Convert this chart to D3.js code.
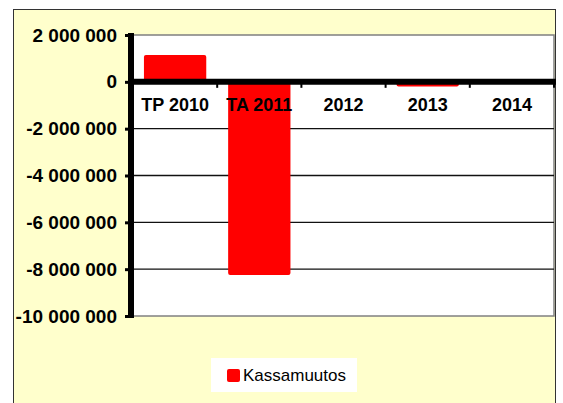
<!DOCTYPE html>
<html>
<head>
<meta charset="utf-8">
<script src="https://cdn.jsdelivr.net/npm/d3@7"></script>
<style>
  body { margin: 0; background: #fff; }
  text { font-family: "Liberation Sans", Arial, sans-serif; }
</style>
</head>
<body>
<svg id="chart" width="563" height="403"></svg>
<script>
// data
const categories = ['TP 2010', 'TA 2011', '2012', '2013', '2014']
const kassamuutos = [1150000, -8250000, 0, -200000, 0]
const yTicks = [2000000, 0, -2000000, -4000000, -6000000, -8000000, -10000000]
const seriesName = 'Kassamuutos'

const svg = d3.select('#chart')
const plot = {left: 131, right: 554, top: 35, bottom: 316}

// outer chart area
svg.append('rect')
  .attr('x', 13.5).attr('y', 9.5)
  .attr('width', 542).attr('height', 410)
  .attr('fill', '#ffffcc')
  .attr('stroke', '#333').attr('stroke-width', 1)

// plot area
svg.append('rect')
  .attr('x', plot.left).attr('y', plot.top)
  .attr('width', plot.right - plot.left).attr('height', plot.bottom - plot.top)
  .attr('fill', '#fff')
  .attr('stroke', '#808080').attr('stroke-width', 1.5)

const x = d3.scaleBand()
  .domain(categories)
  .range([plot.left + 2, plot.right])
  .paddingInner(0.26)
  .paddingOuter(0.13)

const y = d3.scaleLinear()
  .domain([-10000000, 2000000])
  .range([plot.bottom, plot.top])

const fi = d3.formatLocale({decimal: ',', thousands: '\u00a0', grouping: [3], currency: ['', ''], minus: '-'})
const fmt = fi.format(',')

// gridlines
svg.append('g')
  .selectAll('line')
  .data(yTicks.filter(d => d < 0 && d > -10000000))
  .join('line')
    .attr('x1', plot.left).attr('x2', plot.right)
    .attr('y1', d => y(d)).attr('y2', d => y(d))
    .attr('stroke', '#111').attr('stroke-width', 1.3)

// bars
svg.append('g')
  .attr('fill', '#ff0000')
  .selectAll('rect')
  .data(kassamuutos.map((v, i) => ({c: categories[i], v})))
  .join('rect')
    .attr('x', d => x(d.c))
    .attr('y', d => y(Math.max(0, d.v)))
    .attr('width', x.bandwidth())
    .attr('height', d => Math.abs(y(d.v) - y(0)))
    .attr('rx', 2)

// zero line
svg.append('line')
  .attr('x1', plot.left).attr('x2', plot.right + 2)
  .attr('y1', y(0)).attr('y2', y(0))
  .attr('stroke', '#000').attr('stroke-width', 6)

// x ticks at category boundaries
const step = x.step()
svg.append('g')
  .selectAll('line')
  .data(categories.slice(1).concat(['end']))
  .join('line')
    .attr('x1', (d, i) => x(categories[0]) - x.paddingInner() * step / 2 + step * (i + 1))
    .attr('x2', (d, i) => x(categories[0]) - x.paddingInner() * step / 2 + step * (i + 1))
    .attr('y1', y(0)).attr('y2', y(0) + 6)
    .attr('stroke', '#000').attr('stroke-width', 2)

// category labels
svg.append('g')
  .selectAll('text')
  .data(categories)
  .join('text')
    .attr('x', d => x(d) + x.bandwidth() / 2)
    .attr('y', 111)
    .attr('text-anchor', 'middle')
    .attr('font-size', 18)
    .attr('font-weight', 'bold')
    .attr('fill', '#000')
    .text(d => d)

// y axis
const yAxis = svg.append('g')
  .attr('transform', 'translate(' + plot.left + ',0)')
  .call(d3.axisLeft(y).tickValues(yTicks).tickFormat(fmt).tickSize(6).tickPadding(8))
yAxis.select('.domain').remove()
yAxis.selectAll('.tick line').attr('stroke', '#000').attr('stroke-width', 3)
yAxis.selectAll('.tick text')
  .attr('font-size', 19)
  .attr('font-weight', 'bold')
  .attr('font-family', '"Liberation Sans", Arial, sans-serif')
  .attr('fill', '#000')

svg.append('line')
  .attr('x1', plot.left).attr('x2', plot.left)
  .attr('y1', plot.top - 2).attr('y2', plot.bottom + 2)
  .attr('stroke', '#000').attr('stroke-width', 6)

// legend
const legend = svg.append('g')
legend.append('rect')
  .attr('x', 211).attr('y', 358).attr('width', 146).attr('height', 34)
  .attr('fill', '#fff')
legend.append('rect')
  .attr('x', 227).attr('y', 369).attr('width', 13).attr('height', 13)
  .attr('rx', 2).attr('fill', '#ff0000')
legend.append('text')
  .attr('x', 243).attr('y', 381)
  .attr('font-size', 17)
  .attr('fill', '#000')
  .text(seriesName)
</script>
</body>
</html>
